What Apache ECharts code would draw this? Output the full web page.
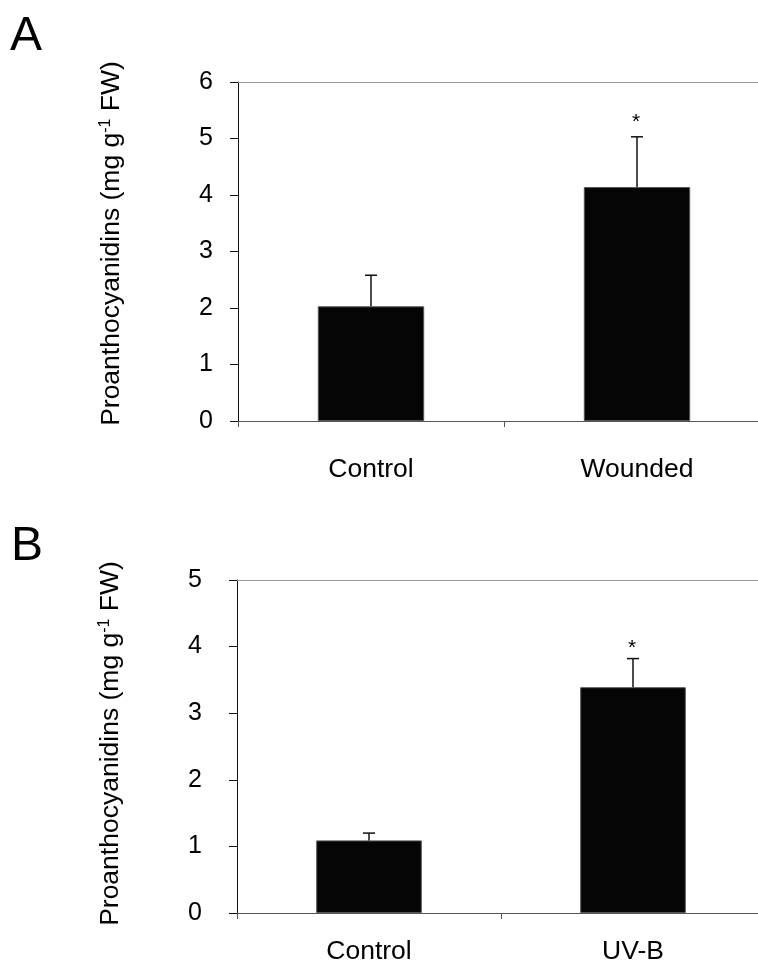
<!DOCTYPE html>
<html>
<head>
<meta charset="utf-8">
<script src="https://cdn.jsdelivr.net/npm/echarts@6/dist/echarts.min.js"></script>
<style>html,body{margin:0;padding:0;background:#fff}#c{width:758px;height:964px}</style>
</head>
<body>
<div id="c"></div>
<script>
// Panel A
const catsA = ['Control', 'Wounded'];
const valsA = [2.03, 4.14];
const errA = [0.55, 0.89];
const sigA = ['', '*'];
const ticksA = { min: 0, max: 6, interval: 1 };
// Panel B
const catsB = ['Control', 'UV-B'];
const valsB = [1.09, 3.39];
const errB = [0.11, 0.43];
const sigB = ['', '*'];
const ticksB = { min: 0, max: 5, interval: 1 };

const FONT = 'Liberation Sans, Arial, sans-serif';
const yName = '{a|Proanthocyanidins (mg g}{s|-1}{a| FW)}';
const nameRich = {
  a: { fontSize: 26.5, fontFamily: FONT, color: '#000' },
  s: { fontSize: 16, fontFamily: FONT, color: '#000', verticalAlign: 'top', padding: [0, 0, 12, 0] }
};

function errSeries(xIdx, yIdx, vals, errs, sigs, sigGap) {
  return {
    type: 'custom', xAxisIndex: xIdx, yAxisIndex: yIdx, z: 5,
    data: vals.map((v, i) => [i, v, errs[i]]),
    renderItem: function (params, api) {
      const i = api.value(0), v = api.value(1), e = api.value(2);
      const b = api.coord([i, v]);
      const t = api.coord([i, v + e]);
      const st = { stroke: '#111', lineWidth: 1.5 };
      return {
        type: 'group',
        children: [
          { type: 'line', shape: { x1: b[0], y1: b[1], x2: t[0], y2: t[1] }, style: st },
          { type: 'line', shape: { x1: t[0] - 6, y1: t[1], x2: t[0] + 6, y2: t[1] }, style: st },
          { type: 'text', style: { text: sigs[params.dataIndex], x: t[0] - 1, y: t[1] - sigGap, align: 'center', verticalAlign: 'bottom', fontSize: 21, fontFamily: FONT, fill: '#000' } }
        ]
      };
    }
  };
}

function yAx(gi, ticks, labMargin, shiftPad) {
  return {
    type: 'value', gridIndex: gi, min: ticks.min, max: ticks.max, interval: ticks.interval,
    name: yName, nameLocation: 'middle', nameRotate: 90, nameGap: 112,
    nameTextStyle: { rich: nameRich, padding: [0, 0, 0, shiftPad] },
    axisLine: { show: true, lineStyle: { color: '#111', width: 1 } },
    axisTick: { show: true, inside: false, length: 8, lineStyle: { color: '#111' } },
    axisLabel: { margin: labMargin, fontSize: 25, fontFamily: FONT, color: '#000' },
    splitLine: { show: false }
  };
}
function xAx(gi, cats, labMargin) {
  return {
    type: 'category', gridIndex: gi, data: cats, position: 'bottom',
    axisLine: { lineStyle: { color: '#555', width: 1.2 } },
    axisTick: { show: true, alignWithLabel: false, length: 6, lineStyle: { color: '#555' } },
    axisLabel: { margin: labMargin, fontSize: 26.5, fontFamily: FONT, color: '#000' }
  };
}
function xTop(gi, cats) {
  return {
    type: 'category', gridIndex: gi, data: cats, position: 'top',
    axisLine: { lineStyle: { color: '#999', width: 1.2 } },
    axisTick: { show: false }, axisLabel: { show: false }
  };
}

const chart = echarts.init(document.getElementById('c'), null, { renderer: 'canvas' });
chart.setOption({
  animation: false,
  backgroundColor: '#fff',
  grid: [
    { left: 238, top: 82, width: 532, height: 339, outerBoundsMode: 'none', containLabel: false },
    { left: 237, top: 580, width: 528, height: 333, outerBoundsMode: 'none', containLabel: false }
  ],
  graphic: [
    { type: 'text', left: 10, top: 13, style: { text: 'A', fontSize: 48, fontFamily: FONT, fill: '#000' } },
    { type: 'text', left: 11, top: 523, style: { text: 'B', fontSize: 48, fontFamily: FONT, fill: '#000' } }
  ],
  xAxis: [xAx(0, catsA, 35), xTop(0, catsA), xAx(1, catsB, 25), xTop(1, catsB)],
  yAxis: [yAx(0, ticksA, 25, 16), yAx(1, ticksB, 35, 6)],
  series: [
    { type: 'bar', xAxisIndex: 0, yAxisIndex: 0, data: valsA, barWidth: '40%',
      itemStyle: { color: '#050505', borderColor: '#555', borderWidth: 1 } },
    errSeries(0, 0, valsA, errA, sigA, 4),
    { type: 'bar', xAxisIndex: 2, yAxisIndex: 1, data: valsB, barWidth: '40%',
      itemStyle: { color: '#050505', borderColor: '#555', borderWidth: 1 } },
    errSeries(2, 1, valsB, errB, sigB, 0)
  ]
});
</script>
</body>
</html>
